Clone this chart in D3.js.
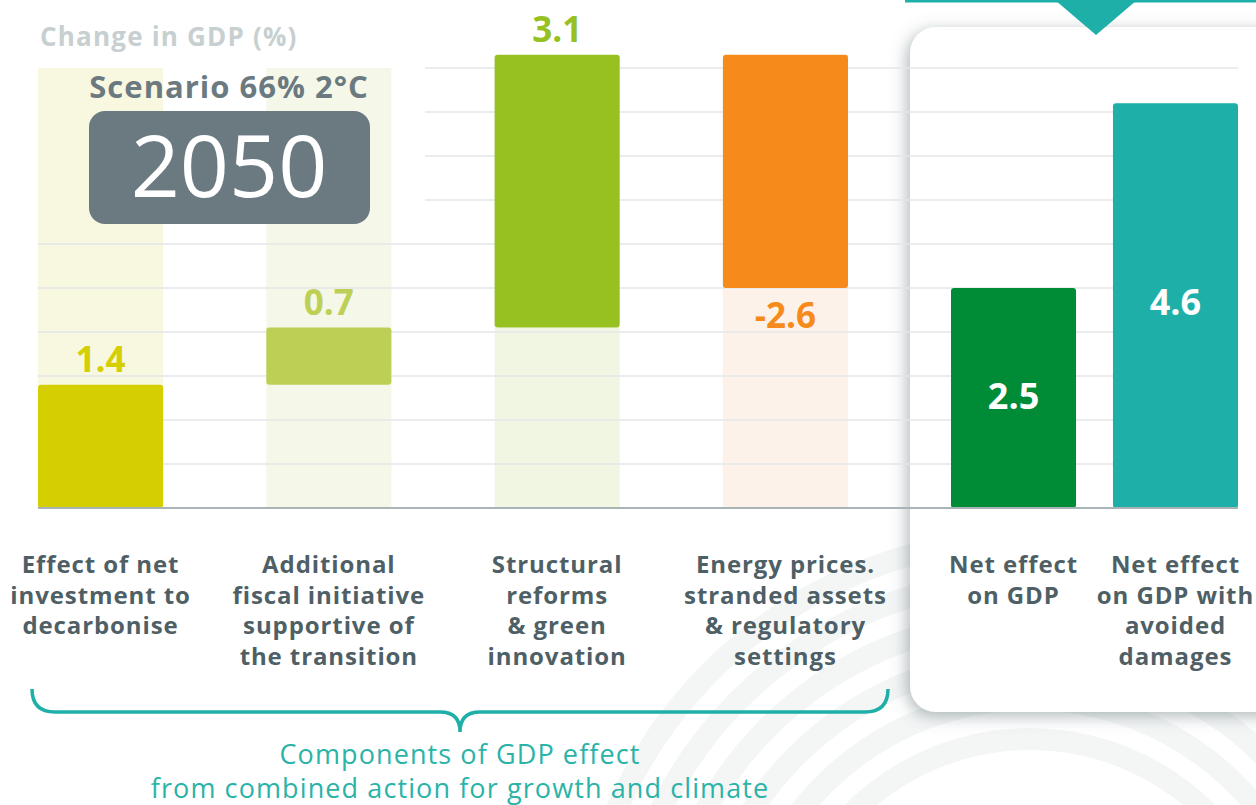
<!DOCTYPE html>
<html>
<head>
<meta charset="utf-8">
<script src="https://cdn.jsdelivr.net/npm/d3@7"></script>
<style>
  body { margin: 0; background: #fff; }
  svg { display: block; font-family: "Open Sans", sans-serif; }
</style>
</head>
<body>
<svg id="canvas" width="1256" height="805"></svg>
<script>
// components of the GDP effect (waterfall)
let compLabels = [
  ['Effect of net', 'investment to', 'decarbonise'],
  ['Additional', 'fiscal initiative', 'supportive of', 'the transition'],
  ['Structural', 'reforms', '& green', 'innovation'],
  ['Energy prices.', 'stranded assets', '& regulatory', 'settings']
]
let compValues = [1.4, 0.65, 3.1, -2.65]
let compText = ['1.4', '0.7', '3.1', '-2.6']

// net effects
let netLabels = [
  ['Net effect', 'on GDP'],
  ['Net effect', 'on GDP with', 'avoided', 'damages']
]
let netValues = [2.5, 4.6]
let netText = ['2.5', '4.6']

let compColors = ['#d5ce00', '#bdd055', '#97c121', '#f68a1b']
let bandColors = ['#f8f7e0', '#f5f7e9', '#f1f6e3', '#fdf2e9']
let netColors = ['#008c37', '#1eb0a8']

let canvas = d3.select('#canvas')

let y = d3.scaleLinear().domain([0, 5]).range([508, 68])
let xComp = d3.scaleBand().domain(d3.range(4)).range([38, 848]).paddingInner(0.452).paddingOuter(0)
let xNet = d3.scaleBand().domain(d3.range(2)).range([951, 1238]).paddingInner(0.228).paddingOuter(0)

// running totals for the waterfall
let steps = []
let total = 0
compValues.forEach((v, i) => {
  let start = total
  total += v
  steps.push({ i: i, start: start, end: total, value: v })
})

let defs = canvas.append('defs')
let shadow = defs.append('filter').attr('id', 'shadow')
  .attr('x', '-10%').attr('y', '-10%').attr('width', '130%').attr('height', '130%')
shadow.append('feDropShadow')
  .attr('dx', -3).attr('dy', 4).attr('stdDeviation', 8)
  .attr('flood-color', '#5f6f74').attr('flood-opacity', 0.5)

// faint watermark swooshes
let marks = canvas.append('g')
d3.range(6).forEach((k) => {
  marks.append('path')
    .attr('d', d3.arc()({ innerRadius: 240 + k * 40, outerRadius: 262 + k * 40, startAngle: -1.2, endAngle: 0.9 }))
    .attr('transform', 'translate(1030, 990)')
    .attr('fill', '#f4f6f6')
})

// side panel for net effects
canvas.append('rect')
  .attr('x', 910).attr('y', 27)
  .attr('width', 400).attr('height', 685)
  .attr('rx', 26)
  .attr('fill', '#fff')
  .attr('filter', 'url(#shadow)')

canvas.append('rect')
  .attr('x', 905).attr('y', 0).attr('width', 360).attr('height', 2.5)
  .attr('fill', '#1eb0a8')
canvas.append('path')
  .attr('d', 'M1055,0 L1137,0 L1096,35 Z')
  .attr('fill', '#1eb0a8')

// background bands behind each component
canvas.selectAll('.band')
  .data(steps)
  .enter()
  .append('rect')
  .attr('class', 'band')
  .attr('x', (d) => xComp(d.i))
  .attr('width', xComp.bandwidth())
  .attr('y', (d) => d.i < 2 ? y(5) : y(Math.min(d.start, d.end)))
  .attr('height', (d) => d.i < 2 ? y(0) - y(5) : y(0) - y(Math.min(d.start, d.end)))
  .attr('fill', (d, i) => bandColors[i])

// gridlines
let ticks = y.ticks(10).filter((t) => t > 0)
canvas.selectAll('.grid')
  .data(ticks)
  .enter()
  .append('line')
  .attr('class', 'grid')
  .attr('x1', (t) => t >= 3.5 ? 425 : 38)
  .attr('x2', 1238)
  .attr('y1', (t) => y(t))
  .attr('y2', (t) => y(t))
  .attr('stroke', '#e3e7e7')
  .attr('stroke-width', 1.6)

// component bars
canvas.selectAll('.bar')
  .data(steps)
  .enter()
  .append('rect')
  .attr('class', 'bar')
  .attr('x', (d) => xComp(d.i))
  .attr('width', xComp.bandwidth())
  .attr('y', (d) => y(Math.max(d.start, d.end)))
  .attr('height', (d) => Math.abs(y(d.start) - y(d.end)))
  .attr('rx', 3)
  .attr('fill', (d, i) => compColors[i])

canvas.selectAll('.val')
  .data(steps)
  .enter()
  .append('text')
  .attr('class', 'val')
  .attr('x', (d) => xComp(d.i) + xComp.bandwidth() / 2)
  .attr('y', (d) => d.value >= 0 ? y(d.end) - 13 : y(d.end) + 40)
  .attr('text-anchor', 'middle')
  .attr('font-size', 35)
  .attr('font-weight', 700)
  .attr('fill', (d, i) => compColors[i])
  .text((d, i) => compText[i])

// net bars
canvas.selectAll('.net')
  .data(netValues)
  .enter()
  .append('rect')
  .attr('class', 'net')
  .attr('x', (d, i) => xNet(i))
  .attr('width', xNet.bandwidth())
  .attr('y', (d) => y(d))
  .attr('height', (d) => y(0) - y(d))
  .attr('rx', 3)
  .attr('fill', (d, i) => netColors[i])

canvas.selectAll('.netval')
  .data(netValues)
  .enter()
  .append('text')
  .attr('class', 'netval')
  .attr('x', (d, i) => xNet(i) + xNet.bandwidth() / 2)
  .attr('y', (d) => y(d * 0.51) + 13)
  .attr('text-anchor', 'middle')
  .attr('font-size', 36)
  .attr('font-weight', 700)
  .attr('fill', '#fff')
  .text((d, i) => netText[i])

// baseline
canvas.append('line')
  .attr('x1', 38).attr('x2', 1238)
  .attr('y1', y(0)).attr('y2', y(0))
  .attr('stroke', '#a9b4b6')
  .attr('stroke-width', 2)

// category labels
let drawLabels = (labels, scale) => {
  labels.forEach((lines, i) => {
    let t = canvas.append('text')
      .attr('x', scale(i) + scale.bandwidth() / 2)
      .attr('y', 573)
      .attr('text-anchor', 'middle')
      .attr('font-size', 24)
      .attr('font-weight', 700)
      .attr('letter-spacing', 0.9)
      .attr('fill', '#4f5f66')
    lines.forEach((line, k) => {
      t.append('tspan')
        .attr('x', scale(i) + scale.bandwidth() / 2)
        .attr('dy', k === 0 ? 0 : 30.5)
        .text(line)
    })
  })
}
drawLabels(compLabels, xComp)
drawLabels(netLabels, xNet)

// title block
canvas.append('text')
  .attr('x', 40).attr('y', 46)
  .attr('font-size', 26).attr('font-weight', 700)
  .attr('letter-spacing', 1.2)
  .attr('fill', '#c7cfd0')
  .text('Change in GDP (%)')

canvas.append('text')
  .attr('x', 229).attr('y', 98)
  .attr('text-anchor', 'middle')
  .attr('font-size', 31).attr('font-weight', 700)
  .attr('letter-spacing', 1)
  .attr('fill', '#6b7a80')
  .text('Scenario 66% 2°C')

canvas.append('rect')
  .attr('x', 89).attr('y', 111)
  .attr('width', 281).attr('height', 113)
  .attr('rx', 16)
  .attr('fill', '#6b7a81')

canvas.append('text')
  .attr('x', 229).attr('y', 197)
  .attr('text-anchor', 'middle')
  .attr('font-size', 86)
  .attr('fill', '#fff')
  .text('2050')

// brace under the components
canvas.append('path')
  .attr('d', 'M32,689 Q32,712 55,712 L440,712 Q460,712 460,732 Q460,712 480,712 L865,712 Q888,712 888,689')
  .attr('fill', 'none')
  .attr('stroke', '#1eb0a8')
  .attr('stroke-width', 3.5)

let caption = canvas.append('text')
  .attr('text-anchor', 'middle')
  .attr('font-size', 27)
  .attr('letter-spacing', 1.1)
  .attr('fill', '#2bb3a8')
caption.append('tspan').attr('x', 460).attr('y', 764).text('Components of GDP effect')
caption.append('tspan').attr('x', 460).attr('y', 798).text('from combined action for growth and climate')
</script>
</body>
</html>
